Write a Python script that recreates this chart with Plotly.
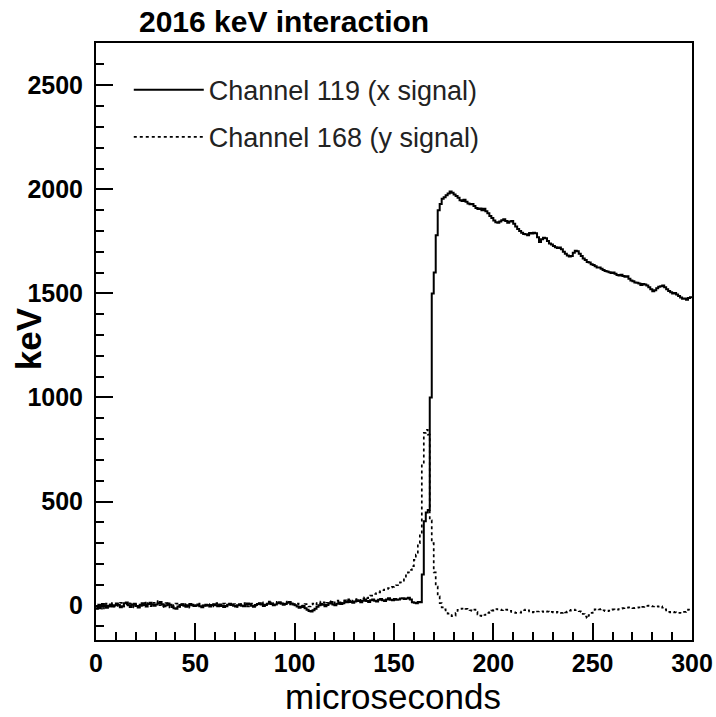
import plotly.graph_objects as go

# ---- data (1 microsecond bins, 0..300 us) ----
bin_width_us = 1.0

ch119_x_signal = [
    -5, -12, 3, 8, -2, -10, 0, 6, -4, 2,
    10, 4, -8, -3, 12, 15, 2, -6, 5, 9,
    -2, -9, 4, 11, 3, -4, 8, 14, 6, -1,
    5, 12, 18, 7, -3, 2, 10, 4, -6, -12,
    -15, -4, 3, 6, 0, -5, 2, 8, 4, -2,
    1, 6, -3, -8, 0, 4, 2, -4, 3, 7,
    2, -3, 5, 0, -6, -2, 4, 9, 3, -1,
    -4, 2, 7, 1, -3, 4, 10, 6, 0, -5,
    3, 8, 12, 5, -2, 4, 9, 14, 8, 2,
    6, 12, 16, 10, 4, 8, 14, 18, 10, 5,
    2, -4, -10, -6, 0, -12, -20, -26, -28, -22,
    -15, -5, 2, 8, 4, -3, 3, 10, 14, 6,
    2, 9, 15, 8, 12, 20, 16, 24, 18, 14,
    20, 26, 22, 16, 24, 30, 22, 18, 26, 30,
    24, 20, 28, 32, 26, 22, 30, 36, 28, 26,
    32, 28, 30, 34, 36, 32, 34, 38, 30, 16,
    14, 12, 18, 16, 150, 405, 447, 460, 1000, 1500,
    1600, 1780, 1900, 1930, 1955, 1962, 1972, 1980, 1990, 1984,
    1975, 1968, 1960, 1948, 1944, 1950, 1940, 1932, 1928, 1930,
    1920, 1910, 1905, 1908, 1900, 1907, 1895, 1885, 1872, 1862,
    1850, 1842, 1840, 1845, 1852, 1856, 1848, 1840, 1845, 1848,
    1835, 1822, 1810, 1800, 1792, 1786, 1784, 1780, 1790, 1788,
    1792, 1789, 1770, 1747, 1760, 1768, 1765, 1752, 1740, 1735,
    1728, 1722, 1718, 1720, 1712, 1700, 1690, 1682, 1677, 1680,
    1695, 1705, 1703, 1690, 1680, 1668, 1660, 1651, 1648, 1640,
    1636, 1630, 1625, 1624, 1618, 1612, 1608, 1605, 1602, 1598,
    1600, 1595, 1588, 1586, 1590, 1584, 1580, 1583, 1570, 1562,
    1558, 1552, 1551, 1548, 1540, 1545, 1543, 1538, 1530, 1520,
    1511, 1515, 1525, 1532, 1535, 1538, 1530, 1520, 1512, 1505,
    1500, 1502, 1495, 1488, 1480, 1474, 1476, 1470, 1478, 1482,
]

ch168_y_signal = [
    -15, 5, -8, -20, 0, 10, -5, 2, 12, -3,
    -6, 8, 14, 4, -4, 6, 16, 10, 0, -8,
    6, 2, -10, 0, 12, 20, 8, -2, 4, 14,
    22, 10, 2, -6, 6, 12, 0, -8, -2, 4,
    10, 0, -6, 8, 14, 4, -4, -10, 2, 6,
    -2, 4, 10, 2, -6, 0, 8, 3, -3, 5,
    12, 6, -2, 4, 10, 2, -4, 6, 0, 8,
    4, -6, 0, 8, 12, 3, -3, 5, 10, 2,
    0, 6, 10, 16, 8, 2, 12, 20, 14, 6,
    10, 18, 12, 4, 10, 20, 14, 6, 12, 8,
    4, 10, 6, -2, 4, 8, 2, -4, 6, 10,
    14, 6, 12, 20, 16, 8, 14, 22, 18, 10,
    16, 24, 20, 12, 18, 26, 22, 30, 24, 20,
    26, 32, 28, 24, 34, 40, 36, 44, 48, 53,
    56, 60, 64, 70, 74, 77, 80, 84, 88, 90,
    93, 98, 105, 112, 120, 132, 145, 160, 172, 190,
    220, 245, 300, 345, 680, 830, 845, 822, 410, 300,
    160, 92, 45, 12, -8, -18, -30, -38, -45, -50,
    -48, -35, -20, -16, -14, -11, -15, -19, -22, -25,
    -19, -30, -42, -48, -51, -45, -38, -35, -30, -24,
    -20, -16, -18, -19, -22, -18, -19, -20, -25, -30,
    -32, -35, -35, -34, -28, -22, -19, -22, -28, -32,
    -30, -32, -28, -26, -27, -30, -27, -29, -32, -30,
    -32, -34, -30, -32, -35, -30, -32, -28, -24, -20,
    -19, -22, -24, -27, -30, -40, -52, -59, -45, -35,
    -25, -18, -16, -18, -16, -22, -26, -27, -24, -20,
    -18, -20, -19, -16, -14, -12, -10, -9, -8, -10,
    -12, -11, -10, -8, -11, -6, -3, -1, 0, -2,
    -4, -2, -3, -5, -3, -10, -18, -27, -30, -32,
    -30, -32, -33, -35, -34, -35, -30, -25, -19, -22,
]

series_names = ["Channel 119 (x signal)", "Channel 168 (y signal)"]
title_text = "2016 keV interaction"
x_title = "microseconds"
y_title = "keV"
x_tick_values = [0, 50, 100, 150, 200, 250, 300]
y_tick_values = [0, 500, 1000, 1500, 2000, 2500]

FONT = "Liberation Sans, Arial, sans-serif"


def step_xy(vals):
    edges = [i * bin_width_us for i in range(len(vals) + 1)]
    return edges, list(vals) + [vals[-1]]


fig = go.Figure()
xs, ys = step_xy(ch119_x_signal)
fig.add_trace(go.Scatter(x=xs, y=ys, mode="lines", line_shape="hv",
                         line=dict(color="black", width=2),
                         name=series_names[0], legendgroup="a"))
xs, ys = step_xy(ch168_y_signal)
fig.add_trace(go.Scatter(x=xs, y=ys, mode="lines", line_shape="hv",
                         line=dict(color="black", width=1.7, dash="3px,3px"),
                         name=series_names[1], legendgroup="b"))

axis_common = dict(
    showgrid=False, zeroline=False, showline=True, linecolor="black",
    linewidth=2, mirror=True, ticks="inside", tickcolor="black",
    tickwidth=1.5, automargin=False,
    tickfont=dict(family=FONT, size=25, color="black", weight="bold"),
)

fig.update_xaxes(range=[0, 300], tickvals=x_tick_values, ticklen=17,
                 minor=dict(dtick=10, ticklen=8, ticks="inside",
                            tickcolor="black", tickwidth=1.5),
                 ticklabelstandoff=0, **axis_common)
fig.update_yaxes(range=[-165, 2703], tickvals=y_tick_values, ticklen=17,
                 minor=dict(dtick=100, ticklen=8, ticks="inside",
                            tickcolor="black", tickwidth=1.5),
                 ticklabelstandoff=6, **axis_common)

fig.add_annotation(text=title_text, xref="paper", yref="paper",
                   x=0.069, y=1.036, xanchor="left", yanchor="middle",
                   showarrow=False,
                   font=dict(family=FONT, size=30, color="black", weight="bold"))
fig.add_annotation(text=x_title, xref="paper", yref="paper",
                   x=0.498, y=-0.0945, xanchor="center", yanchor="middle",
                   showarrow=False,
                   font=dict(family=FONT, size=35, color="black"))
fig.add_annotation(text=y_title, xref="paper", yref="paper",
                   x=-0.113, y=0.505, xanchor="center", yanchor="middle",
                   textangle=-90, showarrow=False,
                   font=dict(family=FONT, size=35, color="black", weight="bold"))

fig.update_layout(
    width=716, height=717,
    margin=dict(l=96, r=24, t=43, b=77),
    paper_bgcolor="white", plot_bgcolor="white",
    showlegend=True,
    legend=dict(x=0.055, y=0.962, xanchor="left", yanchor="top",
                bgcolor="rgba(0,0,0,0)", borderwidth=0,
                traceorder="grouped", tracegroupgap=9, itemwidth=70,
                font=dict(family=FONT, size=27, color="#222")),
)

fig.write_html("out.html")
